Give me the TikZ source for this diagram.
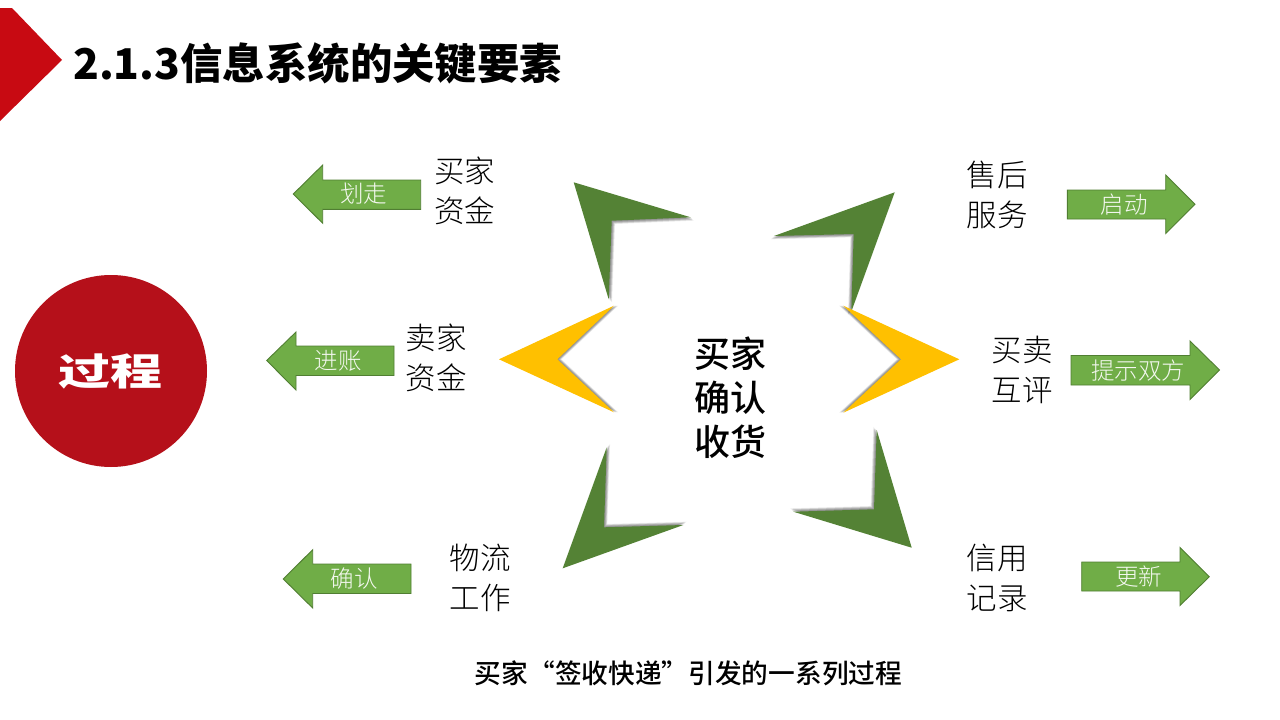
\documentclass[tikz,border=0pt]{standalone}
\usepackage{fontspec}
\setmainfont{Noto Sans CJK SC}
\newfontfamily\cjklight{Noto Sans CJK SC Light}
\newfontfamily\cjkmedium{Noto Sans CJK SC Medium}
\definecolor{darkgreen}{HTML}{548235}
\definecolor{gold}{HTML}{FFC000}
\definecolor{arrowfill}{HTML}{70AD47}
\definecolor{arrowline}{HTML}{507E32}
\definecolor{flagred}{HTML}{C80A12}
\definecolor{discred}{HTML}{B5101A}
\newcommand{\pointer}[4]{%
  \foreach \k/\o in {0.6/0.05,1.2/0.07,1.8/0.08,2.4/0.09,3/0.09,3.6/0.08,4.2/0.06}{%
    \fill[black,opacity=\o,shift={({#2*\k},{#3*\k})}] #4 -- cycle;}
  \fill[#1] #4 -- cycle;}
\tikzset{
  lab/.style={font=\cjklight\fontsize{30.5}{39.5}\selectfont,align=center,inner sep=0pt,text=black},
  arrowtext/.style={font=\cjklight\fontsize{23.5}{28}\selectfont,inner sep=0pt,text=white!92!arrowfill},
  block/.style={fill=arrowfill,draw=arrowline,line width=0.9pt,line join=miter}
}
\begin{document}
\begin{tikzpicture}[x=1pt,y=-1pt]
\useasboundingbox (0,0) rectangle (1280,720);
\fill[white] (0,0) rectangle (1280,720);
% header
\fill[flagred] (0,8) -- (12,8) -- (62,60) -- (0,121) -- cycle;
\node[anchor=west,inner sep=0pt,font=\bfseries\fontsize{42.4}{46}\selectfont] (title) at (73,63) {2.1.3信息系统的关键要素};
% disc
\node[circle,fill=discred,minimum size=192pt,inner sep=0pt] (disc) at (111,371) {};
\node[inner sep=0pt,text=white,font=\bfseries\fontsize{52}{56}\selectfont] (disclabel) at (110,371) {\scalebox{1}[0.72]{过程}};
% pointers
\pointer{darkgreen}{0.8}{0.8}{(573.7,182.3) -- (690.7,217.3) -- (611.7,220.7) -- (608.7,299.3)}
\pointer{gold}{1}{0}{(499,359.3) -- (614,305.7) -- (557.3,359.3) -- (614,412.3)}
\pointer{darkgreen}{-0.8}{0.8}{(894.7,192.3) -- (774,236) -- (853.7,234) -- (851.3,311.7)}
\pointer{gold}{-1}{0}{(959.3,359.3) -- (843.3,305.7) -- (901,359.3) -- (843.3,412.7)}
\pointer{darkgreen}{-0.8}{-0.8}{(876.7,430) -- (911.7,547.7) -- (793.3,511.7) -- (874,509.3)}
\pointer{darkgreen}{0.8}{-0.8}{(606.7,447.3) -- (562.7,568.3) -- (683.3,525) -- (604,527.3)}
% centre
\node[inner sep=0pt,align=center,font=\cjkmedium\fontsize{36}{44}\selectfont] (centre) at (730.5,398) {买家\\确认\\收货};
\node[inner sep=0pt,font=\cjkmedium\fontsize{26.7}{30}\selectfont] (caption) at (688.5,673) {买家“签收快递”引发的一系列过程};
% labels
\node[lab] (l1) at (464.5,191) {买家\\资金};
\node[lab] (l2) at (436,358) {卖家\\资金};
\node[lab] (l3) at (480,578) {物流\\工作};
\node[lab] (r1) at (997,195) {售后\\服务};
\node[lab] (r2) at (1022,370) {买卖\\互评};
\node[lab] (r3) at (997,578) {信用\\记录};
% block arrows
\draw[block] (293.3,194) -- (322.7,165) -- (322.7,180) -- (420.7,180) -- (420.7,209.3) -- (322.7,209.3) -- (322.7,223.3) -- cycle;
\draw[block] (266.7,360.5) -- (296,332) -- (296,346) -- (394,346) -- (394,375.5) -- (296,375.5) -- (296,390) -- cycle;
\draw[block] (283.3,579) -- (312.7,549.7) -- (312.7,564) -- (411,564) -- (411,593.5) -- (312.7,593.5) -- (312.7,608) -- cycle;
\draw[block] (1195,204.3) -- (1165.7,175) -- (1165.7,190) -- (1067.3,190) -- (1067.3,219) -- (1165.7,219) -- (1165.7,233.5) -- cycle;
\draw[block] (1219.5,370) -- (1190,341) -- (1190,355.5) -- (1071,355.5) -- (1071,385) -- (1190,385) -- (1190,399.5) -- cycle;
\draw[block] (1209.3,576.7) -- (1180,547.5) -- (1180,562) -- (1081.7,562) -- (1081.7,591) -- (1180,591) -- (1180,605.5) -- cycle;
\node[arrowtext] (a1) at (363.5,194) {划走};
\node[arrowtext] (a2) at (338,360.5) {进账};
\node[arrowtext] (a3) at (354,578.5) {确认};
\node[arrowtext] (a4) at (1124,204.5) {启动};
\node[arrowtext] (a5) at (1138,370.5) {提示双方};
\node[arrowtext] (a6) at (1138.5,577) {更新};
\end{tikzpicture}
\end{document}
